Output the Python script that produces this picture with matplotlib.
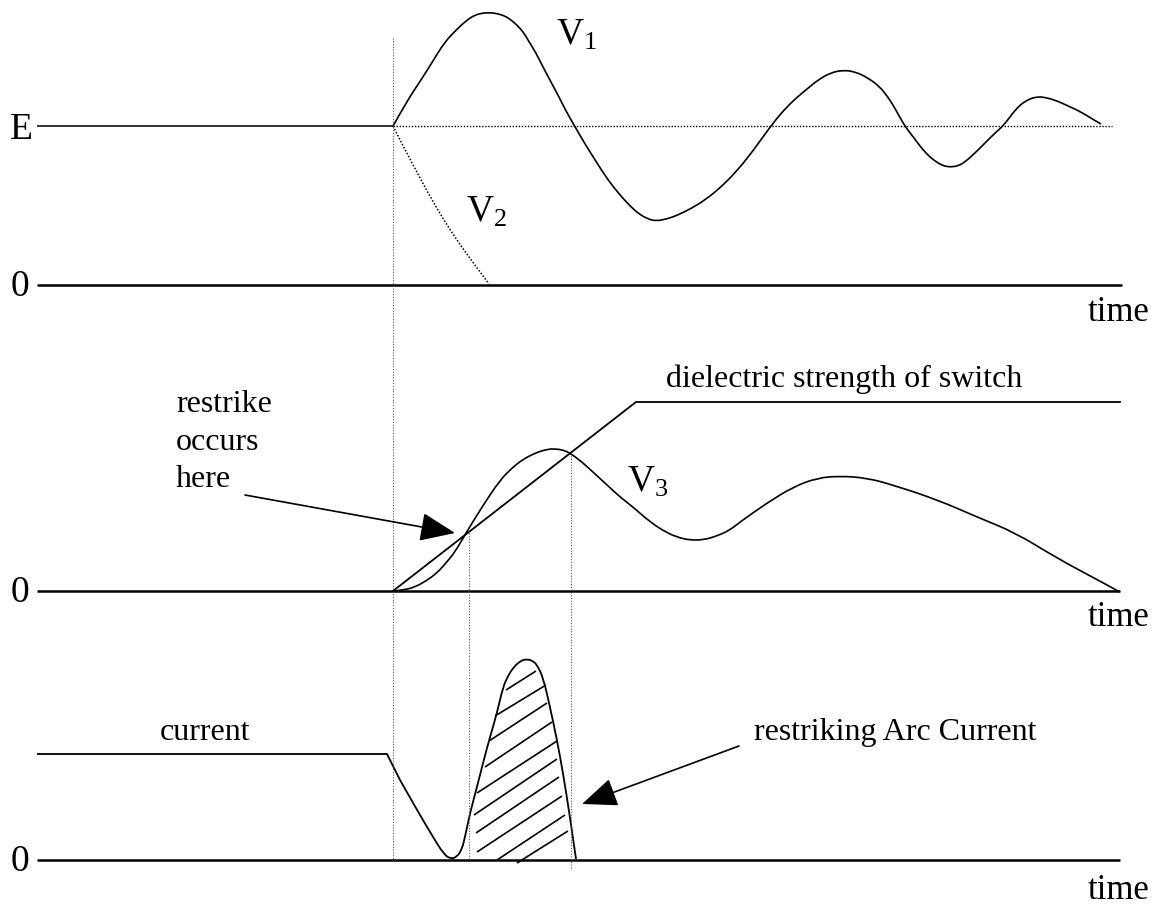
import matplotlib
matplotlib.use('Agg')
import matplotlib.pyplot as plt
from matplotlib.path import Path
from matplotlib.patches import PathPatch

plt.rcParams['font.family'] = ['Liberation Serif', 'DejaVu Serif']
plt.rcParams['mathtext.fontset'] = 'custom'
plt.rcParams['mathtext.rm'] = 'Liberation Serif'
plt.rcParams['mathtext.it'] = 'Liberation Serif'

# ---- data (pixel coordinates, y downward) ----
# panel levels
level_E = 126
zero_top = 285
zero_mid = 591
zero_bot = 860

# V1 transient (top panel)
v1_x = [393, 407, 421, 433, 444, 456, 467, 475, 483, 490, 497, 505, 511, 517, 524, 528, 536, 543, 551,
        559, 566, 574, 585, 597, 608, 620, 630, 639, 648, 656, 667, 678, 692, 705, 720, 736, 753,
        770, 783, 795, 807, 818, 830, 843, 856, 868, 879, 888, 896, 904, 914, 923, 931, 938, 944,
        950, 958, 965, 975, 985, 994, 1004, 1012, 1020, 1026, 1032, 1038, 1043, 1055, 1066, 1077,
        1086, 1094, 1101]
v1_y = [126, 101, 80, 61, 43, 30, 20, 15, 13, 12.7, 13.5, 16, 20, 25, 33, 40, 53, 67, 82,
        97, 111, 125, 144, 163, 180, 195, 206, 214, 219, 221, 219, 215, 208, 200, 188, 172, 151,
        127, 111, 99, 89, 80, 73, 70, 72, 78, 86, 97, 110, 125, 138, 150, 158, 163, 166,
        167, 166, 162, 153, 143, 134, 125, 114, 105, 101, 98, 97, 97, 100, 105, 110,
        115, 120, 124]

# V2 decay (top panel, dotted)
v2_x = [393, 401, 409, 421, 436, 452, 471, 489]
v2_y = [126, 142, 157, 180, 207, 233, 260, 284]

# V3 (middle panel)
v3_x = [393, 404, 415, 426, 437, 446, 455, 466, 482, 500, 512, 522, 535, 548, 556, 563, 570,
        582, 594, 606, 620, 633, 650, 667, 680, 690, 703, 717, 730, 740, 767, 793, 817, 840,
        867, 893, 938, 977, 1016, 1055, 1094, 1120]
v3_y = [591, 590, 587, 581, 573, 563, 552, 533, 507, 480, 468, 460, 453, 449, 449, 450, 453,
        462, 473, 484, 497, 507, 522, 533, 538, 540, 540, 536, 530, 522, 503, 487, 478, 476,
        478, 485, 500, 517, 533, 557, 578, 592]

# dielectric strength of switch
diel_x = [393, 636, 1120]
diel_y = [591, 402, 402]

# current (bottom panel)
cur_x = [37, 387, 400, 417, 433, 443, 450, 457, 462, 465, 470, 477, 483, 490, 497, 503, 508,
         513, 520, 527, 533, 537, 543, 550, 557, 563, 570, 576]
cur_y = [754, 754, 780, 810, 837, 853, 859, 857, 849, 837, 813, 787, 763, 737, 713, 687, 676,
         668, 661, 659, 661, 665, 677, 707, 740, 773, 817, 859]

# hatch strokes of restriking arc current (x0, y0, x1, y1)
hatch_x0 = [506, 495, 489, 485, 477, 474, 476, 477, 497, 517]
hatch_y0 = [690, 716, 741, 767, 793, 815, 833, 852, 860, 863]
hatch_x1 = [536, 546, 547, 552, 557, 557, 559, 562, 565, 568]
hatch_y1 = [671, 685, 703, 722, 741, 759, 777, 796, 815, 831]

# dotted verticals: x, y_top, y_bottom
vline_x = [393, 469, 571]
vline_top = [38, 533, 453]
vline_bot = [862, 860, 868]

# ---- figure ----
fig = plt.figure(figsize=(11.59, 9.07), dpi=100)
ax = fig.add_axes([0, 0, 1, 1])
ax.set_xlim(0, 1159)
ax.set_ylim(907, 0)
ax.axis('off')

K = 'black'
dot = (0, (1, 1.2))


def smooth_curve(xs, ys, keep_first=1, **kw):
    """Draw a smooth curve through the read points using quadratic Bezier path segments."""
    pts = list(zip(xs, ys))
    verts = [pts[0]]
    codes = [Path.MOVETO]
    for p in pts[1:keep_first]:
        verts.append(p)
        codes.append(Path.LINETO)
    start = max(keep_first - 1, 0)
    for i in range(start + 1, len(pts) - 1):
        (x0, y0), (x1, y1) = pts[i], pts[i + 1]
        mid = ((x0 + x1) / 2.0, (y0 + y1) / 2.0)
        if i == len(pts) - 2:
            mid = pts[i + 1]
        verts += [pts[i], mid]
        codes += [Path.CURVE3, Path.CURVE3]
    if len(pts) == 2:
        verts.append(pts[1])
        codes.append(Path.LINETO)
    ax.add_patch(PathPatch(Path(verts, codes), fill=False, **kw))


# axes (zero lines)
ax.plot([37, 1122], [zero_top, zero_top], color=K, lw=1.8, solid_capstyle='butt')
ax.plot([37, 1120], [zero_mid, zero_mid], color=K, lw=1.8, solid_capstyle='butt')
ax.plot([37, 1120], [zero_bot, zero_bot], color=K, lw=1.8, solid_capstyle='butt')

# E level
ax.plot([37, 393], [level_E, level_E], color=K, lw=1.1, solid_capstyle='butt')
ax.plot([393, 1112], [level_E, level_E], color=K, lw=1.0, linestyle=dot)

# dotted verticals
for x, t, b in zip(vline_x, vline_top, vline_bot):
    ax.plot([x, x], [t, b], color='#555555', lw=0.8, linestyle=(0, (1, 1.5)))

# curves
smooth_curve(v1_x, v1_y, edgecolor=K, lw=1.2, joinstyle='round')
smooth_curve(v2_x, v2_y, edgecolor=K, lw=1.1, linestyle=dot)
smooth_curve(v3_x, v3_y, edgecolor=K, lw=1.2, joinstyle='round')
ax.plot(diel_x, diel_y, color=K, lw=1.3, solid_joinstyle='miter')
smooth_curve(cur_x, cur_y, keep_first=3, edgecolor=K, lw=1.3, joinstyle='round')

for a, b, c, d in zip(hatch_x0, hatch_y0, hatch_x1, hatch_y1):
    ax.plot([a, c], [b, d], color=K, lw=1.2, solid_capstyle='butt')

# arrows
arrow_style = '-|>,head_length=1.1,head_width=0.45'
ax.annotate('', xy=(455, 533), xytext=(245, 495),
            arrowprops=dict(arrowstyle=arrow_style, mutation_scale=20, lw=1.2,
                            color=K, shrinkA=0, shrinkB=0))
ax.annotate('', xy=(582, 804), xytext=(739, 746),
            arrowprops=dict(arrowstyle=arrow_style, mutation_scale=20, lw=1.2,
                            color=K, shrinkA=0, shrinkB=0))

# labels
big = 27
txt = 23
ax.text(10, 139, 'E', fontsize=big, va='baseline', ha='left')
ax.text(11, 296, '0', fontsize=big, va='baseline', ha='left')
ax.text(11, 602, '0', fontsize=big, va='baseline', ha='left')
ax.text(11, 871, '0', fontsize=big, va='baseline', ha='left')

ax.text(556, 45, r'V$_{1}$', fontsize=big, va='baseline', ha='left')
ax.text(466, 222, r'V$_{2}$', fontsize=big, va='baseline', ha='left')
ax.text(627, 492, r'V$_{3}$', fontsize=big, va='baseline', ha='left')

ax.text(1149, 321, 'time', fontsize=25, va='baseline', ha='right')
ax.text(1149, 626, 'time', fontsize=25, va='baseline', ha='right')
ax.text(1149, 899, 'time', fontsize=25, va='baseline', ha='right')

ax.text(666, 387, 'dielectric strength of switch', fontsize=txt, va='baseline', ha='left')
ax.text(176, 412, 'restrike', fontsize=txt, va='baseline', ha='left')
ax.text(176, 450, 'occurs', fontsize=txt, va='baseline', ha='left')
ax.text(176, 487, 'here', fontsize=txt, va='baseline', ha='left')
ax.text(160, 740, 'current', fontsize=txt, va='baseline', ha='left')
ax.text(754, 740, 'restriking Arc Current', fontsize=txt, va='baseline', ha='left')

fig.savefig('out.png', dpi=100)
